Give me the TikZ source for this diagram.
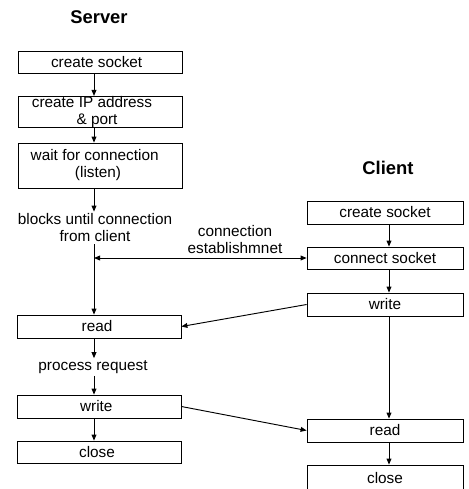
\documentclass[tikz,border=0pt]{standalone}
\usepackage{fontspec}
\setmainfont{Liberation Sans}
\usetikzlibrary{arrows.meta}
\begin{document}
\begin{tikzpicture}[x=0.75pt,y=-0.75pt,
  every node/.style={font=\fontsize{11.5}{12.75}\selectfont},
  sbox/.style={draw, line width=0.6pt, minimum width=123pt, inner sep=0pt, align=center},
  cbox/.style={draw, line width=0.6pt, minimum width=117pt, inner sep=0pt, align=center},
  lbl/.style={align=center, inner sep=1.5pt},
  ttl/.style={font=\fontsize{13.8}{16}\selectfont\bfseries},
  arr/.style={line width=0.7pt, -{Triangle[length=4.5pt,width=3.6pt]}},
  arrb/.style={line width=0.7pt, {Triangle[length=4.5pt,width=3.6pt]}-{Triangle[length=4.5pt,width=3.6pt]}}]
\useasboundingbox (0,0) rectangle (468,489);
\clip (0,0) rectangle (468,489);
\coordinate (sx) at (94,0);
\coordinate (cx) at (389,0);
% Server
\node[ttl] (stitle) at (99,17) {Server};
\node[sbox, minimum height=16.5pt] (s1) at (100,62) {create socket\hspace*{5pt}};
\node[sbox, minimum height=22.5pt] (s2) at (100,112) {create IP address\hspace*{12pt}\\\& port\hspace*{4.5pt}};
\node[sbox, minimum height=33.75pt] (s3) at (100,165.5) {wait for connection\hspace*{8pt}\\(listen)\hspace*{3pt}};
\node[lbl] (bt) at (95,228) {blocks until connection\\from client};
\coordinate (j) at (94,258);
\node[sbox, minimum height=17.25pt] (sread) at (99,326.5) {read\hspace*{3pt}};
\node[lbl] (pr) at (93,367) {process request};
\node[sbox, minimum height=17.25pt] (swrite) at (99,406.5) {write\hspace*{4pt}};
\node[sbox, minimum height=16.5pt] (sclose) at (99,452) {close\hspace*{3pt}};
% Client
\node[ttl] (ctitle) at (388,168) {Client};
\node[cbox, minimum height=17.25pt] (c1) at (385,212.5) {create socket};
\node[cbox, minimum height=16.5pt] (c2) at (385,258) {connect socket};
\node[cbox, minimum height=17.25pt] (c3) at (385,304.5) {write};
\node[cbox, minimum height=17.25pt] (c4) at (385,430.5) {read};
\node[cbox, minimum height=19.5pt] (c5) at (385,478) {close};
% connection label
\node[lbl] (cl) at (235,239.5) {connection\\establishmnet};
% server flow
\draw[arr] (s1.south -| sx) -- (s2.north -| sx);
\draw[arr] (s2.south -| sx) -- (s3.north -| sx);
\draw[arr] (s3.south -| sx) -- (bt.north -| sx);
\draw[arr] (bt.south -| sx) -- (sread.north -| sx);
\draw[arr] (sread.south -| sx) -- (pr.north -| sx);
\draw[arr] (pr.south -| sx) -- (swrite.north -| sx);
\draw[arr] (swrite.south -| sx) -- (sclose.north -| sx);
% client flow
\draw[arr] (c1.south -| cx) -- (c2.north -| cx);
\draw[arr] (c2.south -| cx) -- (c3.north -| cx);
\draw[arr] (c3.south -| cx) -- (c4.north -| cx);
\draw[arr] (c4.south -| cx) -- (c5.north -| cx);
% cross
\draw[arrb] (j) -- (c2.west);
\draw[arr] (c3.west) -- (sread.east);
\draw[arr] (swrite.east) -- (c4.west);
\end{tikzpicture}
\end{document}
